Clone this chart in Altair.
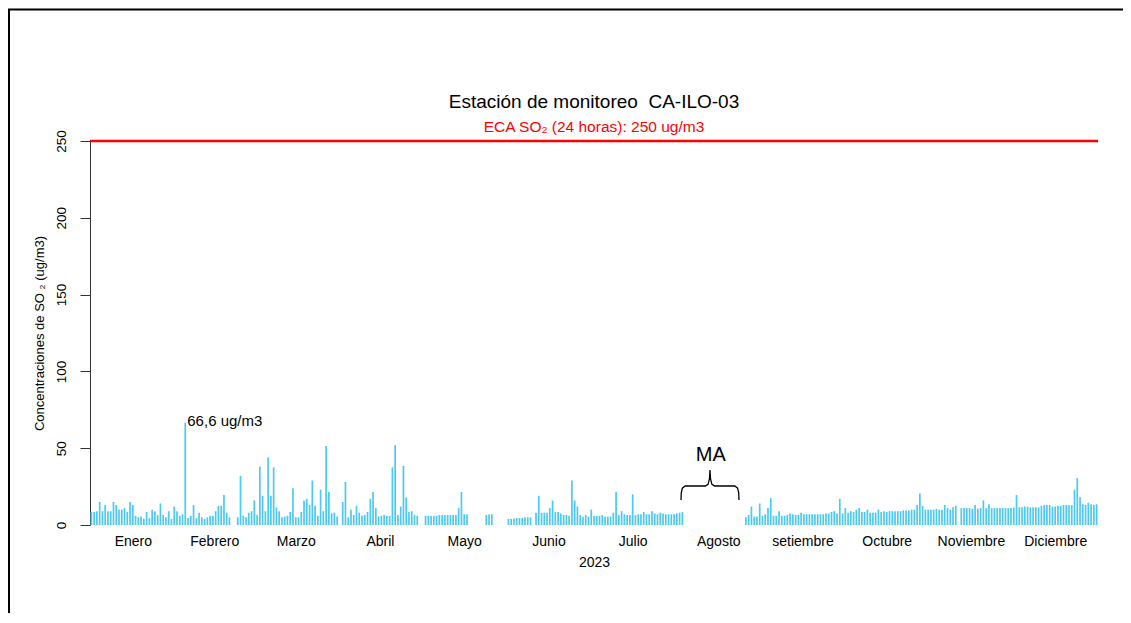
import altair as alt
import pandas as pd

# ---- data (daily SO2, ug/m3; None = no data) ----
months = ["Enero", "Febrero", "Marzo", "Abril", "Mayo", "Junio", "Julio",
          "Agosto", "setiembre", "Octubre", "Noviembre", "Diciembre"]

enero = [8.5, 8.5, 9, 15, 9, 13, 9, 9, 15, 13, 10, 10, 11, 8.5, 15, 13, 6, 5, 5.5, 4,
         8.5, 4.5, 10, 9, 6.5, 14, 6.5, 5, 9, 4, 12]
febrero = [9, 6, 7, 66.6, 4.5, 6, 13, 4.5, 8, 5, 4, 5, 6, 6, 9, 12.5, 12.5, 19.5, 8, 5,
           None, None, 5, 32, 6, 5, 8, 9]
marzo = [16, 6.5, 38, 19, 9, 44, 19, 37.5, 11.5, 9, 5, 5.5, 6, 8.5, 24, 5, 5, 8.5, 16, 17,
         13, 29, 12.5, 6, 23, 9, 51.5, 21.5, 7.5, 8, 5.5]
abril = [None, 15, 28, 5, 10, 6.5, 12.5, 8, 6, 6.5, 8.5, 17, 21.5, 11, 5.5, 6, 6.5, 6, 6, 37.5,
         52, 6.5, 12, 38.5, 18, 8.5, 9, 6.5, 6, None]
mayo = [None, 6, 6, 6, 6, 6, 6.5, 6.5, 6.5, 6.5, 6.5, 6.5, 6.5, 11, 21.5, 7, 7,
        None, None, None, None, None, None, 6.5, 7, 7, None, None, None, None, None]
junio = [4, 4, 4, 4.5, 4.5, 4.5, 5, 5, 5, None, 8, 19, 8, 8, 8, 11, 16, 8.5, 8.5, 7.5,
         6.5, 6.5, 6, 29, 16, 12, 6.5, 5.5, 6.5, 5.5]
julio = [10, 6, 6, 6, 6.5, 5.5, 5.5, 5.5, 8, 21.5, 6.5, 9, 7, 6.5, 6.5, 20, 6.5, 7, 7, 8.5,
         7, 7, 9, 7.5, 7, 8, 7.5, 7, 7, 7, 7]
agosto = [7.5, 8, 8.5, None, None, None, None, None, None, None, None, None, None, None,
          None, None, None, None, None, None, None, None, None, None, None,
          5, 6.5, 12, 5.5, 5.5, 14]
setiembre = [6, 7, 11, 17.5, 6, 6, 9, 6, 6, 6.5, 7.5, 7, 6.5, 6.5, 8, 7, 7, 7, 7, 7,
             7, 7, 7, 7.5, 7.5, 8.5, 9, 7.5, 17, 7.5]
octubre = [11, 8, 9, 8.5, 10, 11, 8.5, 8.5, 10, 8, 8, 8, 10, 8.5, 9, 8.5, 9, 9, 9, 9,
           9, 9.5, 9.5, 9.5, 10, 10, 13, 20.5, 12.5, 10, 10]
noviembre = [10, 10, 10.5, 10, 10, 13, 11, 10, 11.5, 12.5, None, 11, 11, 11, 11, 10.5, 13,
             10.5, 11, 16, 11, 13.5, 11, 11, 11, 11, 11, 11, 11, 11]
diciembre = [11.5, 19.5, 11.5, 11.5, 12, 12, 11.5, 11.5, 11.5, 11.5, 12.5, 13, 13, 13, 12,
             12, 12.5, 12.5, 13, 13, 13, 13, 23, 30.5, 18, 13.5, 13, 14.5, 13.5, 13, 13.5]

eca_limit = 250
y_ticks = [0, 50, 100, 150, 200, 250]
title_text = "Estación de monitoreo \u00a0CA-ILO-03"
eca_label = "ECA SO\u2082 (24 horas): 250 ug/m3"

# brace annotation over the missing-data period (day-of-year, ug/m3)
brace_day = [214.5, 214.6, 215.0, 216.0, 223.3, 224.3, 224.8, 225.0,
             225.2, 225.7, 226.7, 234.0, 235.0, 235.4, 235.5]
brace_val = [16.3, 21, 24.0, 25.4, 25.4, 26.5, 30, 35.8,
             30, 26.5, 25.4, 25.4, 24.0, 21, 16.3]
ma_day, ma_val = 225.3, 45.6

# ---- build tables ----
all_months = [enero, febrero, marzo, abril, mayo, junio, julio, agosto,
              setiembre, octubre, noviembre, diciembre]
rows = []
mids = []
day = 0
for vals in all_months:
    mids.append(day + (len(vals) + 1) / 2)
    for v in vals:
        day += 1
        if v is not None:
            rows.append({"day": day, "so2": v})
df = pd.DataFrame(rows)
peak = df.loc[df["so2"].idxmax()]
peak_df = pd.DataFrame([{"day": peak["day"], "so2": peak["so2"],
                         "txt": f"{peak['so2']:.1f}".replace(".", ",") + " ug/m3"}])
brace_df = pd.DataFrame({"day": brace_day, "so2": brace_val, "o": list(range(len(brace_day)))})
ma_df = pd.DataFrame([{"day": ma_day, "so2": ma_val, "txt": "MA"}])
center_day = (0.5 + 365.5) / 2
eca_df = pd.DataFrame([{"eca": eca_limit, "day": center_day, "txt": eca_label,
                        "title": title_text}])

FONT = "Liberation Sans"
xscale = alt.Scale(domain=[0.5, 365.5], nice=False, zero=False, padding=0)
yscale = alt.Scale(domain=[0, 250], nice=False, padding=0)

mids_js = "[" + ",".join(repr(m) for m in mids) + "]"
names_js = "[" + ",".join("'" + m + "'" for m in months) + "]"

bars = alt.Chart(df).mark_bar(size=1.7, color="#4CC9F0").encode(
    x=alt.X("day:Q", scale=xscale,
            axis=alt.Axis(values=mids, labelExpr=f"{names_js}[indexof({mids_js}, datum.value)]",
                          title="2023", domain=False, ticks=False, grid=False,
                          labelFontSize=14, titleFontSize=14, titleFontWeight="normal",
                          labelPadding=9, titlePadding=7, labelColor="#000", titleColor="#000",
                          labelFont=FONT, titleFont=FONT)),
    y=alt.Y("so2:Q", scale=yscale,
            axis=alt.Axis(values=y_ticks, title="Concentraciones de SO \u2082 (ug/m3)",
                          grid=False, tickSize=10, tickColor="#333", domainColor="#333",
                          labelAngle=270, labelAlign="center", labelBaseline="alphabetic",
                          labelPadding=15, labelFontSize=13.5, labelColor="#000", labelFont=FONT,
                          titleFontSize=13, titleFontWeight="normal", titleColor="#000",
                          titleFont=FONT, titleAngle=270, titleX=-47, titleY=192,
                          titleAlign="center", titleBaseline="alphabetic")),
)

eca_rule = alt.Chart(eca_df).mark_rule(color="#FF0000", strokeWidth=2.5).encode(
    y=alt.Y("eca:Q", scale=yscale))
eca_text = alt.Chart(eca_df).mark_text(color="#FF0000", fontSize=15.5, font=FONT,
                                       baseline="middle", dy=-14).encode(
    x=alt.X("day:Q", scale=xscale), y=alt.Y("eca:Q", scale=yscale), text="txt:N")
title_mark = alt.Chart(eca_df).mark_text(color="#000", fontSize=19, font=FONT,
                                         baseline="middle", dy=-39).encode(
    x=alt.X("day:Q", scale=xscale), y=alt.Y("eca:Q", scale=yscale), text="title:N")

peak_text = alt.Chart(peak_df).mark_text(fontSize=15, font=FONT, align="left",
                                         baseline="middle", dx=2, dy=-2, color="#000").encode(
    x=alt.X("day:Q", scale=xscale), y=alt.Y("so2:Q", scale=yscale), text="txt:N")

brace = alt.Chart(brace_df).mark_line(color="#000", strokeWidth=1.3).encode(
    x=alt.X("day:Q", scale=xscale), y=alt.Y("so2:Q", scale=yscale), order="o:Q")
ma_text = alt.Chart(ma_df).mark_text(fontSize=20, font=FONT, baseline="middle",
                                     color="#000").encode(
    x=alt.X("day:Q", scale=xscale), y=alt.Y("so2:Q", scale=yscale), text="txt:N")

frame = alt.Chart(pd.DataFrame([{"k": 1}])).mark_rect(
    fillOpacity=0, stroke="#000", strokeWidth=2).encode(
    x=alt.value(-81), x2=alt.value(1300), y=alt.value(-131.5), y2=alt.value(800))

chart = alt.layer(frame, bars, eca_rule, eca_text, title_mark, peak_text, brace,
                  ma_text).properties(
    width=1008, height=384,
    autosize=alt.AutoSizeParams(type="none"),
    padding={"left": 82, "top": 133, "right": 25, "bottom": 88},
    background="white",
).configure_view(strokeWidth=0)

chart.save("out.html", embed_options={"renderer": "svg", "actions": False})
